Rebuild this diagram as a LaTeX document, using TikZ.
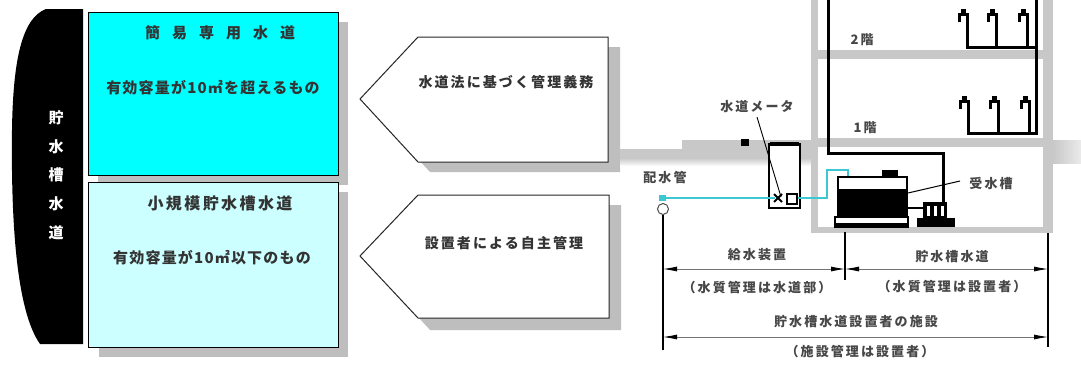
\documentclass[tikz,border=0pt]{standalone}
\usepackage{fontspec}
\newfontfamily\jp{Noto Sans CJK JP}
\usetikzlibrary{arrows.meta}
\definecolor{cyanA}{RGB}{0,255,255}
\definecolor{cyanB}{RGB}{204,255,255}
\definecolor{pipeC}{RGB}{60,200,210}
\definecolor{wallC}{RGB}{200,200,200}
\definecolor{shadC}{RGB}{190,190,190}
\tikzset{
  shadowfill/.style={fill=shadC, draw=none},
  panel/.style={draw=black, line width=1.2pt, anchor=north west, inner sep=0pt},
  boxtitle/.style={font=\jp\bfseries\fontsize{15}{18}\selectfont, text=black!80, inner sep=0pt},
  boxtext/.style={font=\jp\bfseries\fontsize{15}{18}\selectfont\addfontfeatures{LetterSpace=8}, text=black!80, inner sep=0pt},
  tagtext/.style={font=\jp\bfseries\fontsize{14}{17}\selectfont\addfontfeatures{LetterSpace=15}, text=black!80, inner sep=0pt},
  lbl/.style={font=\jp\bfseries\fontsize{13}{15}\selectfont\addfontfeatures{LetterSpace=16}, text=black!72, inner sep=0pt},
  tag/.style={draw=black!85, line width=1pt, fill=white},
  pipe/.style={line width=3pt, line cap=rect},
  waterpipe/.style={pipeC, line width=2.8pt},
  dimline/.style={black!55, line width=0.8pt, {Latex[length=14pt,width=5pt,black]}-{Latex[length=14pt,width=5pt,black]}},
  extline/.style={black, line width=1.3pt},
}
\newcommand\tg{\hspace{12pt}}
\begin{document}
\begin{tikzpicture}[x=1pt,y=-1pt]
\useasboundingbox (0,0) rectangle (1081,365);
\fill[white] (0,0) rectangle (1081,365);

% ---- black side band ----
\fill[black] (83,9) -- (46,9) .. controls (22,18) and (13,60) .. (12,130)
  .. controls (11,220) and (16,310) .. (40,344) -- (83,344) -- cycle;
\node[font=\jp\bfseries\fontsize{15}{28.75}\selectfont, text=white, align=center, inner sep=0pt]
  (side) at (56,175) {貯\\水\\槽\\水\\道};

% ---- category panels ----
\fill[shadowfill] (98,22) rectangle (348,185);
\node[panel, fill=cyanA, minimum width=250, minimum height=163] (simple) at (88,12) {};
\node[boxtitle] (simpletitle) at (220,33) {簡\tg 易\tg 専\tg 用\tg 水\tg 道};
\node[boxtext] (simpletext) at (213,88) {有効容量が10㎡を超えるもの};

\fill[shadowfill] (99,192) rectangle (348,357);
\node[panel, fill=cyanB, minimum width=250, minimum height=165] (small) at (88,182) {};
\node[boxtitle, font=\jp\bfseries\fontsize{16}{18}\selectfont\addfontfeatures{LetterSpace=15}] (smalltitle) at (220,203) {小規模貯水槽水道};
\node[boxtext] (smalltext) at (212,258) {有効容量が10㎡以下のもの};

% ---- management tags ----
\fill[shadowfill] (372,109) -- (430,47) -- (620,47) -- (620,172) -- (430,172) -- cycle;
\draw[tag] (360,99) -- (418,37) -- (608,37) -- (608,162) -- (418,162) -- cycle;
\node[tagtext] (lawtext) at (506,82) {水道法に基づく管理義務};

\fill[shadowfill] (372,266) -- (430,205) -- (621,205) -- (621,330) -- (430,330) -- cycle;
\draw[tag] (360,256) -- (418,195) -- (609,195) -- (609,318) -- (418,318) -- cycle;
\node[tagtext] (selftext) at (504,243) {設置者による自主管理};

% ---- ground and building structure ----
\fill[wallC] (620,149) -- (682,149) -- (682,140) -- (812,140) -- (812,158) -- (620,158) -- cycle;
\shade[top color=wallC, bottom color=white] (620,158) rectangle (812,166);
\fill[wallC] (811,0) rectangle (818,233);
\fill[wallC] (1043,0) rectangle (1053,233);
\fill[wallC] (811,227) rectangle (1053,233);
\fill[wallC] (818,50) rectangle (1043,59);
\fill[wallC] (818,138) rectangle (1043,147);
\shade[left color=wallC, right color=black!8] (1053,140) rectangle (1081,163);
\fill[black] (741,139) rectangle (749,146);

% ---- water meter ----
\draw[line width=1.3pt, fill=white] (769,144) rectangle (800,208);
\fill[black] (770,142) rectangle (799,146);
\node[lbl] (meterlbl) at (757,107) {水道メータ};

% ---- supply pipe ----
\node[circle, draw=black!70, line width=1pt, fill=white, minimum size=11pt, inner sep=0pt] (valve) at (663,209) {};
\fill[pipeC] (659,195) rectangle (666,201);
\draw[waterpipe] (663,198) -- (775,198);
\draw[waterpipe] (797,198) -- (827,198) -- (827,170) -- (848,170) -- (848,190);
\draw[line width=1.8pt] (774,194) -- (782,202) (774,202) -- (782,194);
\draw[line width=1.3pt, fill=white] (787,194) rectangle (797,204);
\coordinate (meterpt) at (781,197);
\draw[line width=0.9pt] (757,117) -- (meterpt);
\node[lbl] (mainlbl) at (665,178) {配水管};

% ---- receiving tank and pump ----
\draw[line width=1.5pt, fill=white] (838,177) rectangle (907,215);
\fill[black] (838,189) rectangle (907,215);
\fill[black] (882,170) rectangle (898,178);
\draw[line width=1.4pt, fill=white] (835,217) rectangle (908,227);
\fill[black] (835,223) rectangle (908,228);
\draw[line width=1.5pt] (907,208) -- (923,208);
\fill[black] (923,202) rectangle (947,218);
\foreach \sx in {927,934,941} \fill[white] (\sx,206) rectangle ++(3,10);
\fill[black] (917,218) rectangle (955,227);
\coordinate (tankpt) at (908,193);
\node[lbl] (tanklbl) at (991,184) {受水槽};
\draw[line width=1pt] (tankpt) -- (960,181);

% ---- building pipework ----
\draw[pipe] (943,202) -- (943,153) -- (828,153) -- (828,0);
\draw[pipe] (1036,0) -- (1036,133) -- (968,133);
\draw[pipe] (1036,47) -- (967,47);
\foreach \fx in {967,996,1027} {
  \draw[pipe] (\fx,47) -- (\fx,14) -- (\fx-8,14) -- (\fx-8,20);
  \fill[black] (\fx-6,9) rectangle (\fx-1,15);
}
\foreach \fx in {968,998,1029} {
  \draw[pipe] (\fx,133) -- (\fx,101) -- (\fx-8,101) -- (\fx-8,107);
  \fill[black] (\fx-6,96) rectangle (\fx-1,102);
}
\node[lbl] (floor2) at (862,40) {2階};
\node[lbl] (floor1) at (865,128) {1階};

% ---- dimension lines ----
\coordinate (dA) at (663,269);
\coordinate (dB) at (845,269);
\coordinate (dC) at (1048,269);
\coordinate (eA) at (663,337);
\coordinate (eC) at (1048,337);
\draw[extline] (valve.south) -- (663,350);
\draw[extline] (845,232) -- (845,280);
\draw[extline] (1048,233) -- (1048,347);
\draw[dimline] (dA) -- (dB);
\draw[dimline] (dB) -- (dC);
\draw[dimline] (eA) -- (eC);
\node[lbl] (supplylbl) at (757,255) {給水装置};
\node[lbl] (supplynote) at (757,288) {（水質管理は水道部）};
\node[lbl] (tanksyslbl) at (952,257) {貯水槽水道};
\node[lbl] (tanksysnote) at (952,287) {（水質管理は設置者）};
\node[lbl] (facilitylbl) at (856,322) {貯水槽水道設置者の施設};
\node[lbl] (facilitynote) at (860,352) {（施設管理は設置者）};
\end{tikzpicture}
\end{document}
